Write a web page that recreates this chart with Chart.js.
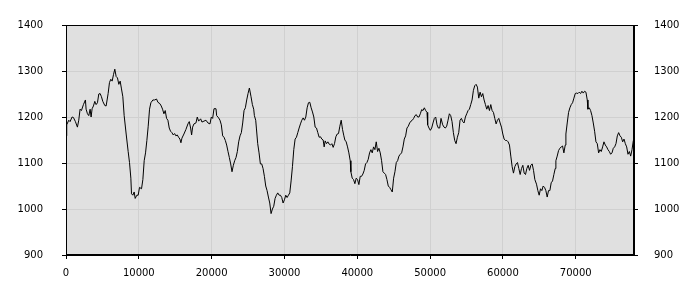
<!DOCTYPE html>
<html>
<head>
<meta charset="utf-8">
<script src="https://cdn.jsdelivr.net/npm/chart.js@4"></script>
<style>
html, body { margin: 0; padding: 0; background: #fff; }
</style>
</head>
<body>
<canvas id="myChart" width="700" height="300"></canvas>
<script>
const xValues = [
    0, 100, 376, 560, 834, 1018, 1293, 1568, 1751, 1935, 2118, 2393, 2668, 2760, 2944, 3127, 3311, 3448, 3586, 3769,
    3953, 4136, 4320, 4503, 4687, 4870, 5053, 5328, 5512, 5786, 5970, 6153, 6337, 6520, 6703, 6887, 7070, 7253, 7437, 7620,
    7804, 7987, 8262, 8537, 8721, 8905, 8996, 9180, 9363, 9501, 9730, 9913, 10097, 10372, 10555, 10738, 10922, 11105, 11289, 11472,
    11656, 11931, 12160, 12435, 12619, 12894, 13077, 13260, 13444, 13627, 13811, 13994, 14177, 14361, 14544, 14728, 14911, 15094, 15278, 15461,
    15645, 15782, 15920, 16195, 16470, 16745, 16928, 17112, 17249, 17387, 17570, 17845, 18029, 18212, 18487, 18671, 18946, 19221, 19496, 19771,
    19955, 20138, 20322, 20597, 20688, 20963, 21147, 21330, 21513, 21697, 21880, 22064, 22247, 22430, 22614, 22797, 22981, 23164, 23348, 23531,
    23714, 23898, 24081, 24265, 24448, 24632, 24815, 24999, 25182, 25410, 25594, 25777, 25869, 26052, 26144, 26327, 26511, 26694, 26878, 27061,
    27245, 27428, 27611, 27795, 27978, 28161, 28345, 28528, 28712, 28895, 29078, 29262, 29445, 29629, 29812, 29995, 30179, 30362, 30546, 30729,
    30912, 31096, 31279, 31463, 31646, 31830, 32013, 32197, 32380, 32564, 32747, 32930, 33114, 33297, 33480, 33664, 33847, 34031, 34214, 34398,
    34581, 34764, 34948, 35131, 35315, 35452, 35590, 35773, 35956, 36140, 36323, 36507, 36690, 36873, 37057, 37240, 37424, 37607, 37790, 37974,
    38157, 38294, 38477, 38661, 38844, 39028, 39119, 39303, 39486, 39670, 39853, 40036, 40220, 40403, 40587, 40770, 40953, 41137, 41320, 41504,
    41687, 41871, 42054, 42237, 42421, 42604, 42788, 42971, 43154, 43338, 43521, 43705, 43888, 44071, 44255, 44438, 44622, 44805, 44989, 45172,
    45356, 45539, 45722, 45906, 46089, 46273, 46456, 46640, 46823, 47006, 47190, 47373, 47557, 47740, 47924, 48107, 48290, 48474, 48657, 48841,
    49024, 49208, 49391, 49574, 49666, 49849, 50032, 50216, 50399, 50583, 50766, 50949, 51133, 51316, 51500, 51729, 51912, 52096, 52279, 52462,
    52646, 52829, 53013, 53196, 53380, 53563, 53746, 53930, 54113, 54297, 54480, 54664, 54847, 55030, 55214, 55397, 55581, 55764, 55947, 56131,
    56314, 56498, 56681, 56865, 57048, 57231, 57415, 57598, 57782, 57965, 58149, 58332, 58515, 58699, 58882, 59066, 59249, 59433, 59616, 59799,
    59983, 60166, 60350, 60533, 60716, 60900, 61083, 61267, 61450, 61634, 61817, 62000, 62184, 62367, 62551, 62734, 62918, 63101, 63284, 63468,
    63651, 63835, 64018, 64202, 64385, 64612, 64796, 64979, 65163, 65346, 65529, 65713, 65896, 66080, 66263, 66447, 66630, 66813, 66997, 67180,
    67272, 67455, 67639, 67822, 68006, 68189, 68372, 68556, 68648, 68831, 69014, 69198, 69381, 69565, 69748, 69931, 70115, 70298, 70481, 70665,
    70848, 71032, 71215, 71398, 71582, 71674, 71857, 72040, 72224, 72407, 72591, 72774, 72958, 73141, 73324, 73508, 73691, 73875, 74058, 74242,
    74425, 74608, 74792, 74975, 75159, 75342, 75526, 75709, 75892, 76076, 76259, 76443, 76626, 76810, 76993, 77176, 77360, 77543, 77727, 77910,
    78000
];

const yValues = [
    1159, 1183, 1193, 1190, 1200, 1199, 1190, 1178, 1193, 1217, 1214, 1227, 1237, 1217, 1207, 1203, 1217, 1200, 1218, 1224,
    1234, 1227, 1231, 1250, 1251, 1244, 1234, 1225, 1224, 1251, 1275, 1282, 1278, 1292, 1304, 1288, 1285, 1271, 1278, 1261,
    1244, 1203, 1163, 1125, 1101, 1067, 1033, 1030, 1037, 1023, 1030, 1030, 1047, 1044, 1064, 1105, 1122, 1149, 1180, 1217,
    1231, 1237, 1237, 1239, 1232, 1229, 1224, 1217, 1207, 1214, 1197, 1193, 1176, 1169, 1166, 1161, 1164, 1159, 1161, 1156,
    1152, 1144, 1154, 1163, 1173, 1185, 1190, 1176, 1161, 1178, 1185, 1187, 1200, 1191, 1196, 1189, 1191, 1193, 1187, 1185,
    1200, 1197, 1218, 1218, 1203, 1198, 1193, 1183, 1159, 1156, 1149, 1139, 1125, 1112, 1098, 1081, 1095, 1105, 1112, 1125,
    1146, 1159, 1166, 1187, 1214, 1220, 1237, 1251, 1263, 1244, 1227, 1217, 1203, 1193, 1176, 1142, 1122, 1098, 1098, 1088,
    1071, 1050, 1040, 1026, 1013, 990, 1000, 1006, 1023, 1030, 1035, 1030, 1030, 1025, 1013, 1020, 1030, 1025, 1030, 1035,
    1061, 1092, 1129, 1152, 1156, 1166, 1176, 1185, 1193, 1198, 1193, 1200, 1220, 1231, 1232, 1220, 1211, 1200, 1178, 1176,
    1166, 1156, 1157, 1152, 1150, 1135, 1148, 1142, 1146, 1141, 1139, 1142, 1134, 1142, 1157, 1163, 1164, 1180, 1193, 1173,
    1159, 1150, 1146, 1135, 1122, 1105, 1081, 1067, 1064, 1055, 1067, 1064, 1053, 1071, 1071, 1076, 1084, 1098, 1101, 1108,
    1122, 1129, 1122, 1135, 1129, 1146, 1125, 1132, 1122, 1105, 1081, 1078, 1075, 1064, 1050, 1047, 1042, 1037, 1067, 1081,
    1101, 1105, 1115, 1119, 1122, 1135, 1152, 1159, 1176, 1180, 1187, 1191, 1193, 1197, 1203, 1205, 1200, 1200, 1207, 1216,
    1214, 1220, 1214, 1210, 1183, 1176, 1171, 1176, 1187, 1197, 1200, 1183, 1176, 1176, 1197, 1183, 1178, 1176, 1180, 1193,
    1207, 1203, 1190, 1166, 1149, 1142, 1156, 1166, 1193, 1197, 1190, 1187, 1200, 1207, 1214, 1217, 1227, 1237, 1258, 1268,
    1271, 1265, 1241, 1254, 1244, 1251, 1237, 1227, 1217, 1225, 1214, 1227, 1214, 1210, 1197, 1185, 1193, 1197, 1187, 1178,
    1163, 1152, 1149, 1149, 1146, 1139, 1115, 1092, 1078, 1092, 1098, 1101, 1088, 1075, 1088, 1095, 1078, 1075, 1088, 1095,
    1084, 1095, 1098, 1084, 1064, 1054, 1040, 1030, 1044, 1040, 1050, 1047, 1040, 1026, 1040, 1040, 1057, 1061, 1075, 1088,
    1105, 1115, 1127, 1132, 1135, 1137, 1122, 1139, 1163, 1187, 1210, 1220, 1227, 1231, 1241, 1251, 1252, 1251, 1254, 1251,
    1256, 1252, 1256, 1254, 1237, 1217, 1220, 1214, 1203, 1187, 1169, 1146, 1142, 1122, 1129, 1125, 1135, 1146, 1139, 1135,
    1129, 1125, 1119, 1122, 1132, 1135, 1142, 1159, 1166, 1159, 1156, 1146, 1152, 1142, 1135, 1119, 1125, 1115, 1129, 1149,
    1149
];

const xTicks = [0, 10000, 20000, 30000, 40000, 50000, 60000, 70000];
const yTicks = [900, 1000, 1100, 1200, 1300, 1400];
const xMin = 0;
const xMax = 78000;

Chart.defaults.font.family = "'DejaVu Sans', sans-serif";
Chart.defaults.font.size = 10;
Chart.defaults.color = '#000';

let points = xValues.map((x, i) => ({ x: x, y: yValues[i] }));

// grey plot background and black frame
const plotBox = {
    id: 'plotBox',
    beforeDraw(chart) {
        const { ctx, chartArea: a } = chart;
        ctx.save();
        ctx.fillStyle = '#e0e0e0';
        ctx.fillRect(a.left, a.top, a.right - a.left, a.bottom - a.top);
        ctx.restore();
    },
    afterDraw(chart) {
        const { ctx, chartArea: a } = chart;
        ctx.save();
        ctx.strokeStyle = '#000';
        ctx.lineWidth = 1;
        ctx.strokeRect(Math.round(a.left) + 0.5, Math.round(a.top) + 0.5,
            Math.round(a.right - a.left) - 1, Math.round(a.bottom - a.top) - 1);
        ctx.restore();
    }
};

const gridStyle = {
    color: '#d0d0d0',
    tickColor: '#000',
    tickLength: 4
};

const plainLabel = (v) => String(v);
const useTicks = (list) => (scale) => {
    scale.ticks = list.map(v => ({ value: v }));
};

const config = {
    type: 'line',
    data: {
        datasets: [{
            data: points,
            borderColor: '#000',
            borderWidth: 1,
            pointRadius: 0,
            fill: false,
            tension: 0
        }]
    },
    options: {
        responsive: false,
        animation: false,
        layout: { padding: { top: 10, left: 0, right: 0, bottom: 0 } },
        plugins: { legend: { display: false }, tooltip: { enabled: false } },
        scales: {
            x: {
                type: 'linear',
                min: xMin,
                max: xMax,
                grid: gridStyle,
                border: { color: '#000' },
                ticks: { autoSkip: false, padding: 8, maxRotation: 0, callback: plainLabel },
                afterBuildTicks: useTicks(xTicks),
                afterFit: (scale) => { scale.height = 45; }
            },
            y: {
                position: 'left',
                min: yTicks[0],
                max: yTicks[yTicks.length - 1],
                grid: gridStyle,
                border: { color: '#000' },
                ticks: { padding: 19, callback: plainLabel },
                afterBuildTicks: useTicks(yTicks),
                afterFit: (scale) => { scale.width = 66; }
            },
            y2: {
                position: 'right',
                min: yTicks[0],
                max: yTicks[yTicks.length - 1],
                grid: { drawOnChartArea: false, tickColor: '#000', tickLength: 4 },
                border: { color: '#000' },
                ticks: { padding: 16, callback: plainLabel },
                afterBuildTicks: useTicks(yTicks),
                afterFit: (scale) => { scale.width = 66; }
            }
        }
    },
    plugins: [plotBox]
};

const myChart = new Chart(document.getElementById('myChart'), config);
</script>
</body>
</html>
